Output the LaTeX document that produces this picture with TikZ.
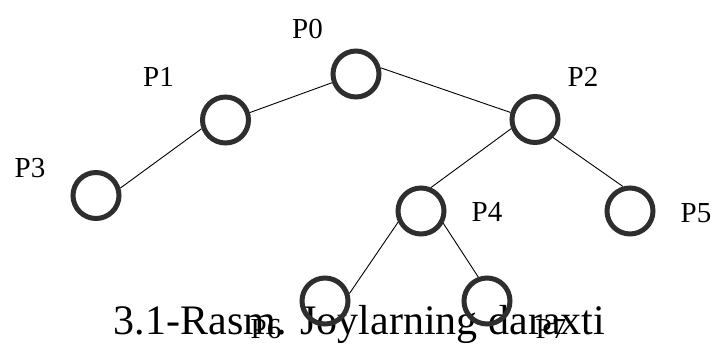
\documentclass[tikz,border=0pt]{standalone}
\usepackage{fontspec}
\setmainfont{Liberation Serif}
\usepackage{tikz}

\tikzset{
  vertex/.style={circle, draw=black!82, line width=5pt, minimum size=46pt, inner sep=0pt},
  vlabel/.style={inner sep=0pt, anchor=base, font=\fontsize{29}{34}\selectfont},
  edge/.style={black, line width=0.9pt}
}

\begin{document}
\begin{tikzpicture}[x=1pt, y=-1pt]
			\useasboundingbox (0,0) rectangle (714,345);
			\node[inner sep=0pt, anchor=base, font=\fontsize{42}{48}\selectfont] (caption) at (359.5,334) {3.1-Rasm. Joylarning daraxti};
			% vertices
			\node[vertex] (p0) at (356,74) {};
			\node[vertex] (p1) at (225.5,120) {};
			\node[vertex] (p2) at (535,119.5) {};
			\node[vertex] (p3) at (96,195.5) {};
			\node[vertex] (p4) at (421,211) {};
			\node[vertex] (p5) at (630,211) {};
			\node[vertex] (p6) at (325,301) {};
			\node[vertex] (p7) at (487,301) {};
			% edges
			\draw[edge] (p0.200) -- (p1.17);
			\draw[edge] (p0.14) -- (p2.164);
			\draw[edge] (p1.200) -- (p3.17);
			\draw[edge] (p2.201) -- (p4.67);
			\draw[edge] (p2.315) -- (p5.106);
			\draw[edge] (p4.206) -- (p6.17);
			\draw[edge] (p4.331) -- (p7.110);
			% labels
			\node[vlabel] (l0) at (307.5,39) {P0};
			\node[vlabel] (l1) at (158.5,86) {P1};
			\node[vlabel] (l2) at (583,86) {P2};
			\node[vlabel] (l3) at (30,177) {P3};
			\node[vlabel] (l4) at (487,221) {P4};
			\node[vlabel] (l5) at (696,222) {P5};
			\node[vlabel] (l6) at (266,338) {P6};
			\node[vlabel] (l7) at (551,338) {P7};
		\end{tikzpicture}
\end{document}
